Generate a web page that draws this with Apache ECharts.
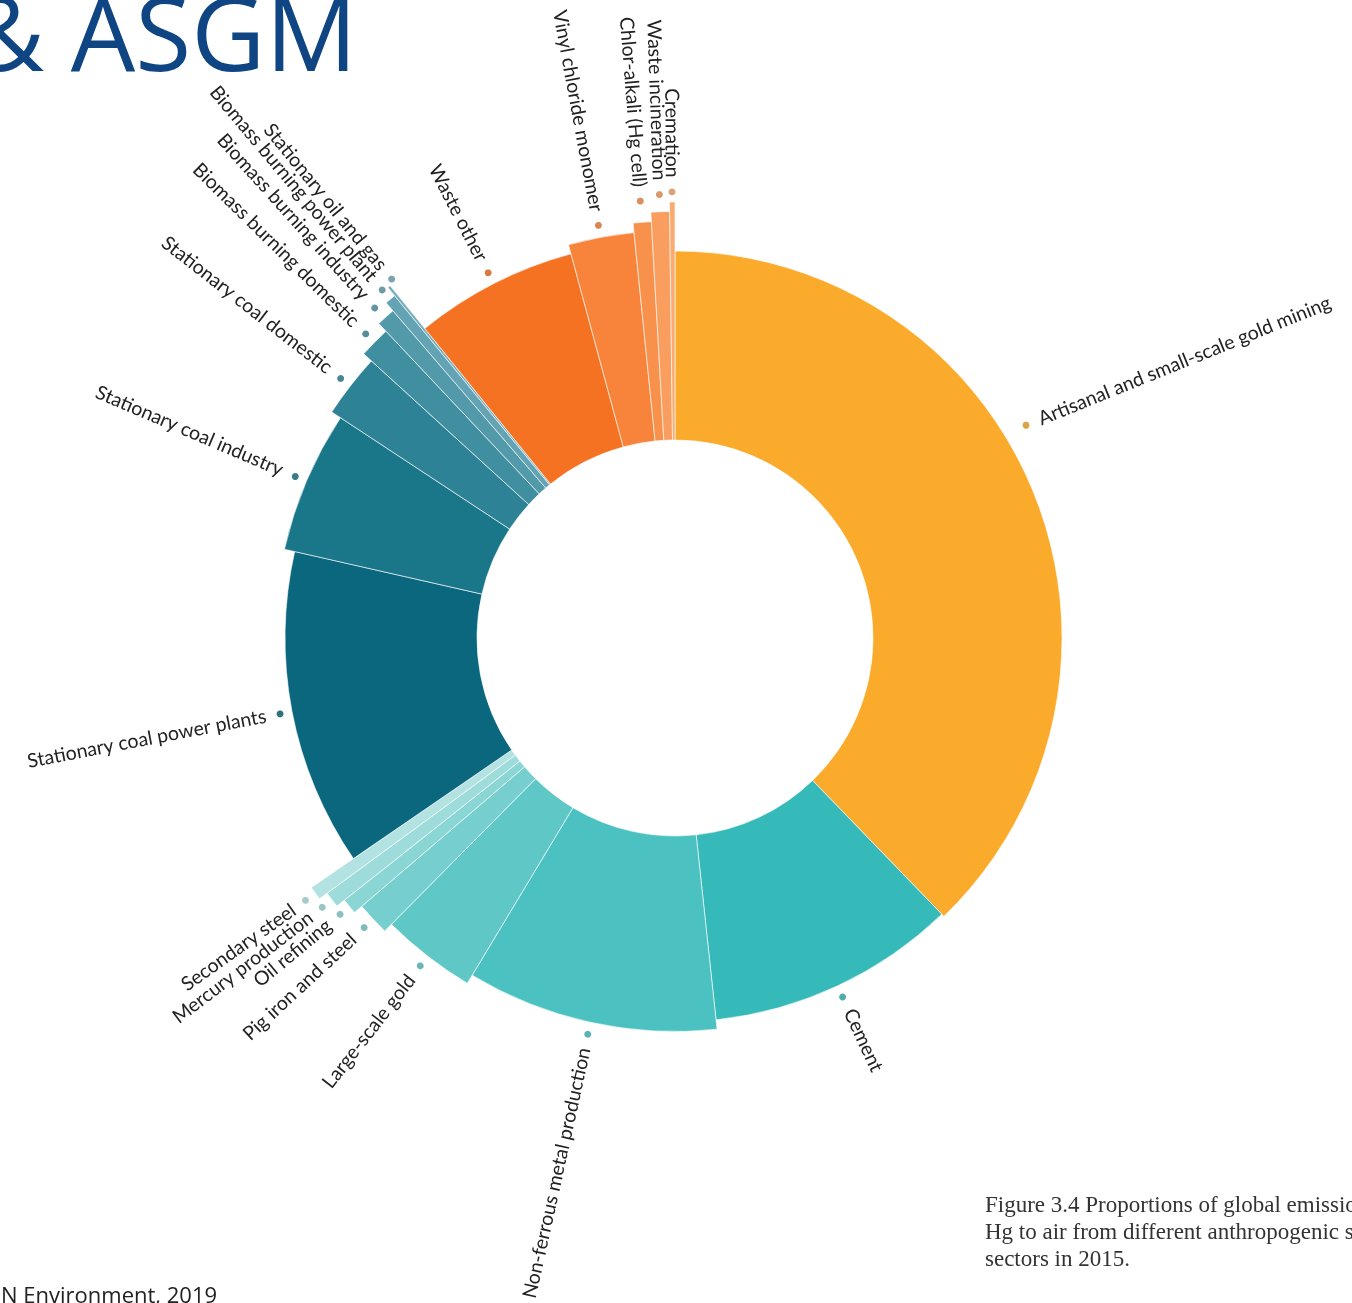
<!DOCTYPE html>
<html>
<head>
<meta charset="utf-8">
<script src="https://cdn.jsdelivr.net/npm/echarts@6/dist/echarts.min.js"></script>
<style>
html,body{margin:0;padding:0;background:#fff}
#main{width:1352px;height:1303px}
</style>
</head>
<body>
<div id="main"></div>
<script>
// sectors, clockwise from 12 o'clock
var sectors = ['Artisanal and small-scale gold mining', 'Cement', 'Non-ferrous metal production',
  'Large-scale gold', 'Pig iron and steel', 'Oil refining', 'Mercury production', 'Secondary steel',
  'Stationary coal power plants', 'Stationary coal industry', 'Stationary coal domestic',
  'Biomass burning domestic', 'Biomass burning industry', 'Biomass burning power plant',
  'Stationary oil and gas', 'Waste other', 'Vinyl chloride monomer', 'Chlor-alkali (Hg cell)',
  'Waste incineration', 'Cremation'];
// share of global anthropogenic Hg emissions to air, 2015 (%)
var shares = [37.7, 10.5, 10.3, 3.8, 1.3, 0.6, 0.6, 0.5,
  13.1, 5.7, 2.5, 1.2, 0.7, 0.4, 0.1,
  6.6, 2.6, 0.7, 0.7, 0.2];
// 0 = ASGM, 1 = industry, 2 = combustion, 3 = waste / intentional use
var sectorGroup = [0, 1, 1, 1, 1, 1, 1, 1, 2, 2, 2, 2, 2, 2, 2, 3, 3, 3, 3, 3];

// styles
var colors = ['#FAAB2B', '#35BAB9', '#4BC2C1', '#5FC8C7', '#76CFCE', '#8AD6D5', '#9DDCDB', '#B2E3E2',
  '#0B677D', '#1A7689', '#2D8395', '#3F8FA0', '#5299AA', '#63A3B3', '#76AEBD',
  '#F57222', '#F7843A', '#F8914C', '#F99E5F', '#FAAB72'];
var groupBase = [387, 384, 390, 398];
var groupStep = [0, 9.5, 10.5, 9.5];
var center = [675, 638];
var innerR = 198;
// small label nudges (px) where the original spreads crowded labels
var labelNudge = {0: [6, -66], 12: [-2, 2], 14: [8, -7], 17: [-9, 0], 18: [-5, 0], 19: [2, 0]};

function muted(hex) {
  var n = parseInt(hex.slice(1), 16);
  var r = (n >> 16) & 255, g = (n >> 8) & 255, b = n & 255;
  var m = function (c) { return Math.round(c * 0.72 + 140 * 0.28); };
  return 'rgb(' + m(r) + ',' + m(g) + ',' + m(b) + ')';
}

var total = shares.reduce(function (a, b) { return a + b; }, 0);
var cum = 0;
var series = sectors.map(function (name, i) {
  var g = sectorGroup[i];
  var rank = 0;
  for (var k = 0; k < i; k++) if (sectorGroup[k] === g) rank++;
  var outer = groupBase[g] + groupStep[g] * rank;
  var mid = (cum + shares[i] / 2) / total;
  cum += shares[i];
  var leftSide = mid > 0.5;
  var nudge = labelNudge[i] || [0, 0];
  return {
    type: 'pie',
    name: name,
    center: center,
    radius: [innerR, outer],
    startAngle: 90,
    clockwise: true,
    avoidLabelOverlap: false,
    silent: true,
    animation: false,
    emphasis: {disabled: true},
    labelLine: {show: false, length: 8, length2: 0},
    labelLayout: {hideOverlap: false, dx: nudge[0], dy: nudge[1]},
    label: {
      position: 'outside',
      rotate: 'radial',
      distanceToLabelLine: 0,
      color: '#222',
      fontFamily: 'Lato',
      fontSize: 19.5,
      formatter: function (p) {
        return leftSide ? p.name + '  {dot|●}' : '{dot|●}  ' + p.name;
      },
      rich: {
        dot: {color: muted(colors[i]), fontSize: 14}
      }
    },
    data: sectors.map(function (n, j) {
      var own = j === i;
      return {
        name: n,
        value: shares[j],
        itemStyle: own
          ? {color: colors[j], borderColor: 'rgba(255,255,255,0.6)', borderWidth: 1}
          : {color: 'rgba(0,0,0,0)', borderWidth: 0},
        label: {show: own}
      };
    })
  };
});

var chart = echarts.init(document.getElementById('main'));
chart.setOption({
  backgroundColor: '#fff',
  animation: false,
  graphic: [
    {type: 'text', x: -30, y: 42, style: {text: '& ASGM', font: '102px "Open Sans"', fill: '#0E4582', align: 'left', verticalAlign: 'middle'}},
    {type: 'text', x: -15, y: 1297, style: {text: 'UN Environment, 2019', font: '22px "Open Sans"', fill: '#222', align: 'left', verticalAlign: 'middle'}},
    {type: 'text', x: 985, y: 1206, style: {text: 'Figure 3.4 Proportions of global emissions of', font: '23px "Liberation Serif"', fill: '#333', align: 'left', verticalAlign: 'middle'}},
    {type: 'text', x: 985, y: 1233, style: {text: 'Hg to air from different anthropogenic sources', font: '23px "Liberation Serif"', fill: '#333', align: 'left', verticalAlign: 'middle'}},
    {type: 'text', x: 985, y: 1260, style: {text: 'sectors in 2015.', font: '23px "Liberation Serif"', fill: '#333', align: 'left', verticalAlign: 'middle'}}
  ],
  series: series
});
</script>
</body>
</html>
